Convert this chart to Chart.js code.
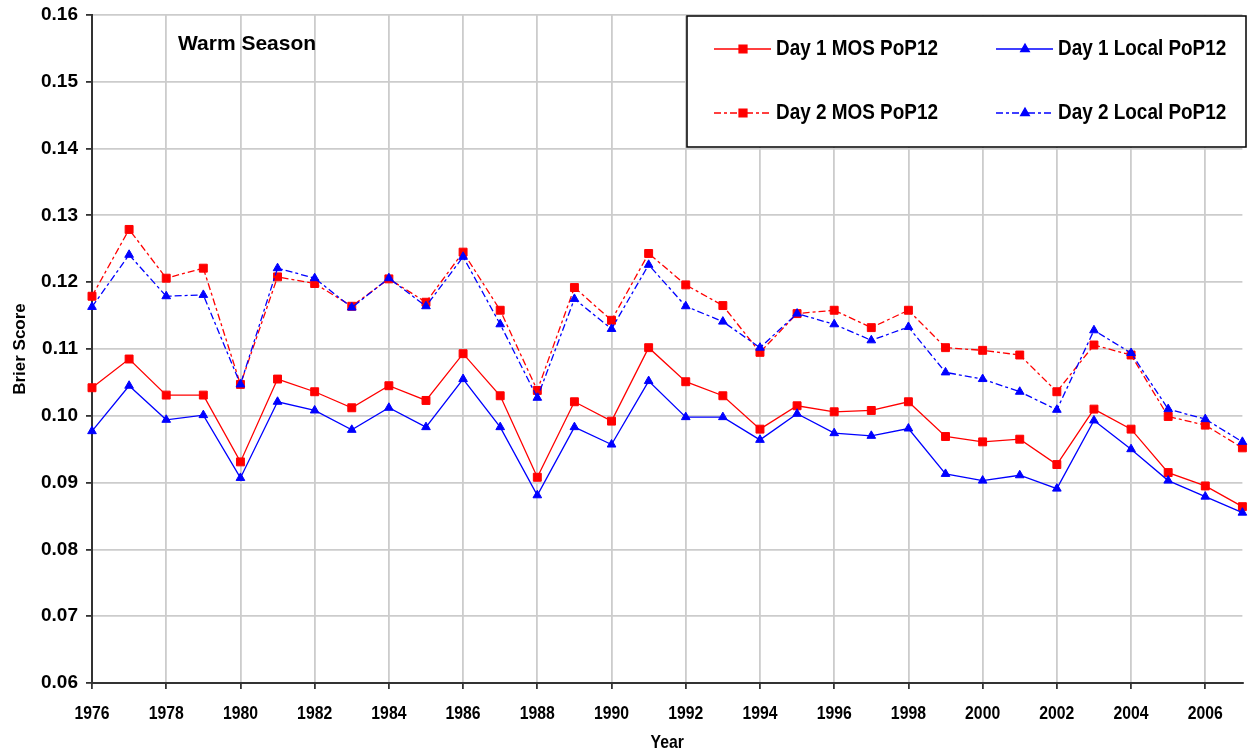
<!DOCTYPE html>
<html lang="en">
<head>
    <meta charset="UTF-8">
    <title>Brier Score - Warm Season</title>
    <script src="https://cdn.jsdelivr.net/npm/chart.js"></script>
    <style>
        html, body { margin: 0; padding: 0; background: #fff; }
        #wrap { width: 1249px; height: 755px; position: relative; }
    </style>
</head>
<body>
    <div id="wrap"><canvas id="brierChart"></canvas></div>
    <script>
        // values
        const years = [1976, 1977, 1978, 1979, 1980, 1981, 1982, 1983, 1984, 1985, 1986, 1987, 1988, 1989, 1990, 1991,
                       1992, 1993, 1994, 1995, 1996, 1997, 1998, 1999, 2000, 2001, 2002, 2003, 2004, 2005, 2006, 2007];
        const day1Mos = [0.1042, 0.1085, 0.1031, 0.1031, 0.0931, 0.1055, 0.1036, 0.1012, 0.1045, 0.1023, 0.1093, 0.1030, 0.0908, 0.1021, 0.0992, 0.1102,
                         0.1051, 0.1030, 0.0980, 0.1015, 0.1006, 0.1008, 0.1021, 0.0969, 0.0961, 0.0965, 0.0927, 0.1010, 0.0980, 0.0915, 0.0895, 0.0864];
        const day1Local = [0.0977, 0.1045, 0.0994, 0.1001, 0.0907, 0.1021, 0.1008, 0.0979, 0.1012, 0.0983, 0.1055, 0.0983, 0.0881, 0.0983, 0.0957, 0.1052,
                           0.0998, 0.0998, 0.0964, 0.1003, 0.0974, 0.0970, 0.0981, 0.0913, 0.0903, 0.0911, 0.0891, 0.0993, 0.0950, 0.0903, 0.0879, 0.0855];
        const day2Mos = [0.1179, 0.1279, 0.1206, 0.1221, 0.1047, 0.1208, 0.1198, 0.1164, 0.1205, 0.1170, 0.1245, 0.1158, 0.1038, 0.1192, 0.1143, 0.1243,
                         0.1196, 0.1165, 0.1095, 0.1153, 0.1158, 0.1132, 0.1158, 0.1102, 0.1098, 0.1091, 0.1036, 0.1106, 0.1091, 0.0999, 0.0986, 0.0952];
        const day2Local = [0.1163, 0.1241, 0.1179, 0.1181, 0.1047, 0.1221, 0.1206, 0.1162, 0.1206, 0.1164, 0.1238, 0.1137, 0.1027, 0.1175, 0.1130, 0.1226,
                           0.1164, 0.1141, 0.1102, 0.1153, 0.1137, 0.1113, 0.1133, 0.1065, 0.1055, 0.1036, 0.1009, 0.1128, 0.1094, 0.1010, 0.0995, 0.0961];
        const yearTicks = [1976, 1978, 1980, 1982, 1984, 1986, 1988, 1990, 1992, 1994, 1996, 1998, 2000, 2002, 2004, 2006];
        const seriesNames = ['Day 1 MOS PoP12', 'Day 1 Local PoP12', 'Day 2 MOS PoP12', 'Day 2 Local PoP12'];

        const RED = '#ff0000';
        const BLUE = '#0000ff';
        const DASH = [7, 3, 3, 3];

        function toPoints(values) {
            return years.map((yr, i) => ({ x: yr, y: values[i] }));
        }

        function makeSet(name, values, color, dashed, marker) {
            return {
                label: name,
                data: toPoints(values),
                borderColor: color,
                backgroundColor: color,
                borderWidth: 1.3,
                borderDash: dashed ? DASH : [],
                pointStyle: marker,
                pointRadius: marker === 'rect' ? 5.6 : 5,
                pointBorderWidth: 1,
                pointBorderColor: color,
                pointBackgroundColor: color,
                tension: 0,
                clip: 8,
                order: color === BLUE ? 0 : 1
            };
        }

        // no Arial Narrow installed, so squeeze Liberation Sans sideways
        function narrowText(ctx, text, x, y, size, align, squeeze) {
            ctx.save();
            ctx.font = 'bold ' + size + 'px "Liberation Sans", Arial, sans-serif';
            ctx.textBaseline = 'middle';
            ctx.textAlign = align;
            ctx.translate(x, y);
            ctx.scale(squeeze, 1);
            ctx.fillText(text, 0, 0);
            ctx.restore();
        }

        // x labels, legend box and the "Warm Season" note
        const decorPlugin = {
            id: 'decor',
            afterDraw(chart) {
                const ctx = chart.ctx;
                const xs = chart.scales.x;
                const area = chart.chartArea;
                ctx.save();
                ctx.fillStyle = '#000';

                yearTicks.forEach(v => {
                    narrowText(ctx, String(v), xs.getPixelForValue(v), 714, 19, 'center', 0.83);
                });
                narrowText(ctx, 'Year', (area.left + area.right) / 2, 743, 19, 'center', 0.83);

                ctx.font = 'bold 21px "Liberation Sans", Arial, sans-serif';
                ctx.textBaseline = 'middle';
                ctx.textAlign = 'left';
                ctx.fillText('Warm Season', 178, 44);

                // legend
                const bx = 687, by = 16, bw = 559, bh = 131;
                ctx.fillStyle = '#fff';
                ctx.fillRect(bx, by, bw, bh);
                ctx.strokeStyle = '#000';
                ctx.lineWidth = 1.5;
                ctx.strokeRect(bx, by, bw, bh);

                const entries = [
                    { x: 714, y: 49, color: RED, dashed: false, marker: 'rect' },
                    { x: 996, y: 49, color: BLUE, dashed: false, marker: 'triangle' },
                    { x: 714, y: 113, color: RED, dashed: true, marker: 'rect' },
                    { x: 996, y: 113, color: BLUE, dashed: true, marker: 'triangle' }
                ];
                entries.forEach((e, i) => {
                    ctx.strokeStyle = e.color;
                    ctx.lineWidth = 1.3;
                    ctx.setLineDash(e.dashed ? DASH : []);
                    ctx.beginPath();
                    ctx.moveTo(e.x, e.y);
                    ctx.lineTo(e.x + 57, e.y);
                    ctx.stroke();
                    ctx.setLineDash([]);
                    ctx.fillStyle = e.color;
                    Chart.helpers.drawPoint(ctx, {
                        pointStyle: e.marker,
                        radius: e.marker === 'rect' ? 5.6 : 5,
                        borderWidth: 1
                    }, e.x + 29, e.y);
                    ctx.fillStyle = '#000';
                    narrowText(ctx, seriesNames[i], e.x + 62, e.y, 22, 'left', 0.86);
                });
                ctx.restore();
            }
        };

        const ctx = document.getElementById('brierChart').getContext('2d');
        new Chart(ctx, {
            type: 'line',
            data: {
                datasets: [
                    makeSet(seriesNames[0], day1Mos, RED, false, 'rect'),
                    makeSet(seriesNames[1], day1Local, BLUE, false, 'triangle'),
                    makeSet(seriesNames[2], day2Mos, RED, true, 'rect'),
                    makeSet(seriesNames[3], day2Local, BLUE, true, 'triangle')
                ]
            },
            options: {
                responsive: true,
                maintainAspectRatio: false,
                animation: false,
                layout: { padding: { top: 15, right: 5, left: 0, bottom: 0 } },
                plugins: {
                    legend: { display: false },
                    tooltip: { enabled: false }
                },
                scales: {
                    x: {
                        type: 'linear',
                        min: 1976,
                        max: 2007,
                        afterBuildTicks: scale => { scale.ticks = yearTicks.map(v => ({ value: v })); },
                        afterFit: scale => { scale.height = 72; scale.paddingLeft = 0; scale.paddingRight = 0; },
                        grid: { color: '#cccccc', lineWidth: 1.8, tickLength: 6, tickColor: '#333' },
                        border: { color: '#333', width: 2 },
                        ticks: { display: false, autoSkip: false, maxRotation: 0 }
                    },
                    y: {
                        min: 0.06,
                        max: 0.16,
                        afterFit: scale => { scale.width = 92; scale.paddingTop = 0; scale.paddingBottom = 0; },
                        grid: { color: '#cccccc', lineWidth: 1.8, tickLength: 6, tickColor: '#333' },
                        border: { color: '#333', width: 2 },
                        ticks: {
                            stepSize: 0.01,
                            color: '#000',
                            padding: 8,
                            font: { family: '"Liberation Sans", Arial, sans-serif', size: 19, weight: 'bold' },
                            callback: v => v.toFixed(2)
                        },
                        title: {
                            display: true,
                            text: 'Brier Score',
                            color: '#000',
                            padding: { top: 10, bottom: 0 },
                            font: { family: '"Liberation Sans", Arial, sans-serif', size: 17, weight: 'bold' }
                        }
                    }
                }
            },
            plugins: [decorPlugin]
        });
    </script>
</body>
</html>
